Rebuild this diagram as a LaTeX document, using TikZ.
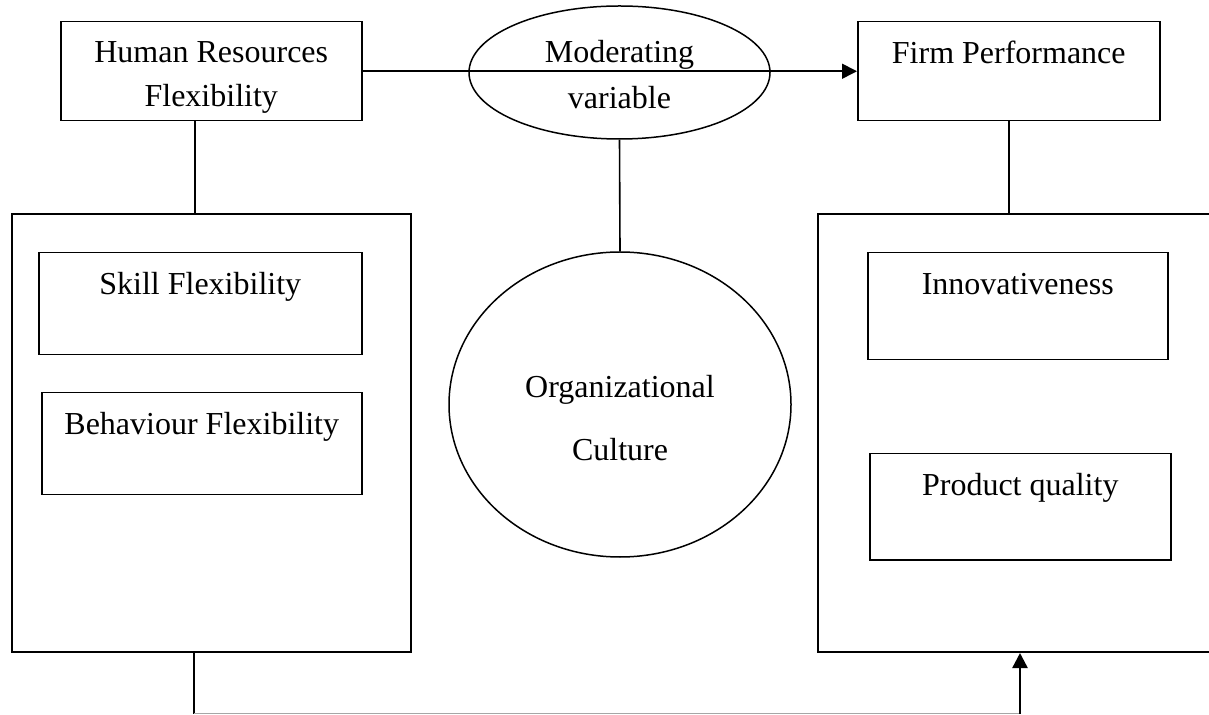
\documentclass[tikz,border=0pt]{standalone}
\usepackage{fontspec}
\setmainfont{Liberation Serif}
\usetikzlibrary{arrows.meta,shapes}

\begin{document}
\begin{tikzpicture}[x=0.5pt, y=-0.5pt,
    every node/.style={font=\fontsize{16}{19}\selectfont},
    box/.style={draw, line width=0.75pt, inner sep=0pt, anchor=north west},
    topbox/.style={box, text height=21pt},
    group/.style={draw, line width=1pt, inner sep=0pt, anchor=north west,
        minimum height=219pt},
    link/.style={line width=0.8pt},
    tip/.style={-{Triangle[length=7.5pt,width=7.5pt]}}]
    \useasboundingbox (0,0) rectangle (1209,715);

    % top row
    \node[box, align=center, minimum width=150.5pt, minimum height=49.5pt]
        (hrf) at (60,21) {\rule{0pt}{17pt}Human Resources\\[3pt]Flexibility};
    \node[draw, ellipse, line width=0.75pt, inner sep=0pt, align=center,
        minimum width=150.5pt, minimum height=66.5pt]
        (moder) at (619.5,72.5) {\rule{0pt}{13pt}Moderating\\[4pt]variable};
    \node[topbox, minimum width=151pt, text depth=28.5pt]
        (firm) at (857,21) {Firm Performance};

    % dimension groups
    \node[group, minimum width=199.5pt] (hrgroup) at (11,213) {};
    \node[group, minimum width=210pt] (fpgroup) at (817,213) {};

    \node[topbox, minimum width=161.5pt, text depth=30pt]
        (skill) at (38,252) {Skill Flexibility};
    \node[topbox, minimum width=160pt, text depth=30pt]
        (behav) at (41,392) {Behaviour Flexibility};
    \node[topbox, minimum width=150pt, text depth=32.5pt]
        (innov) at (867,252) {Innovativeness};
    \node[topbox, minimum width=150.5pt, text depth=32pt]
        (quality) at (869,453) {Product quality};

    \node[draw, ellipse, line width=0.75pt, inner sep=0pt, align=center,
        minimum width=171pt, minimum height=152.5pt]
        (culture) at (620,404.5) {\rule{0pt}{25pt}Organizational\\[12.5pt]Culture};

    % connectors
    \draw[link, tip] (hrf.east) -- (firm.west);
    \draw[link] ([xshift=-8.25pt]hrf.south) -- ([xshift=-8.25pt]hrf.south |- hrgroup.north);
    \draw[link] (moder.south) -- (culture.north);
    \draw[link] (firm.south) -- (firm.south |- fpgroup.north);

    % feedback loop along the bottom
    \coordinate (loopL) at (194,713.5);
    \coordinate (loopR) at (1020,713.5);
    \draw[line width=1.3pt] (loopL |- hrgroup.south) -- (loopL);
    \draw[line width=0.6pt, gray!70] (loopL) -- (loopR);
    \draw[line width=1.2pt, tip] (loopR) -- (loopR |- fpgroup.south);
\end{tikzpicture}
\end{document}
